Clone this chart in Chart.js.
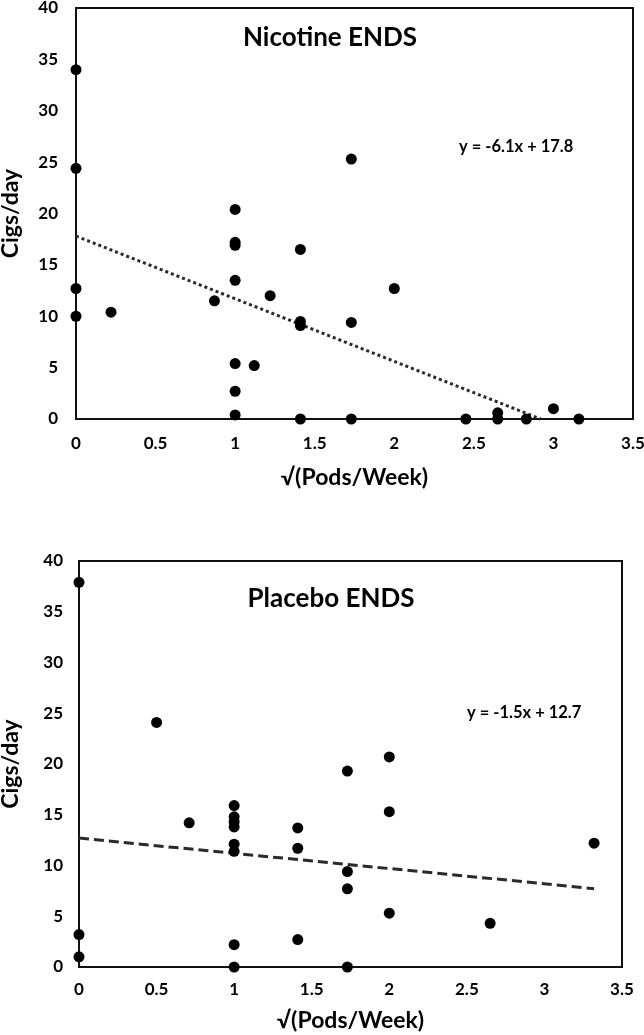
<!DOCTYPE html>
<html><head><meta charset="utf-8">
<script src="https://cdn.jsdelivr.net/npm/chart.js@4.4.1/dist/chart.umd.min.js"></script>
<style>
html,body{margin:0;padding:0;background:#fff;width:644px;height:1035px;overflow:hidden}
canvas{position:absolute;left:0}
#c1{top:0}
#c2{top:510px}
</style></head><body>
<canvas id="c1" width="644" height="500"></canvas>
<canvas id="c2" width="644" height="525"></canvas>
<script>
// ---- data ----
const xTicks = [0, 0.5, 1, 1.5, 2, 2.5, 3, 3.5];
const xTickLabels = ['0', '0.5', '1', '1.5', '2', '2.5', '3', '3.5'];
const yTicks = [0, 5, 10, 15, 20, 25, 30, 35, 40];
const yTickLabels = ['0', '5', '10', '15', '20', '25', '30', '35', '40'];

const nicotineX = [0, 0, 0, 0, 0.22, 0.87, 1, 1, 1, 1, 1, 1, 1, 1.12, 1.22, 1.41, 1.41, 1.41, 1.41, 1.73, 1.73, 1.73, 2, 2.45, 2.65, 2.65, 2.83, 3, 3.16];
const nicotineY = [34, 24.4, 12.7, 10, 10.4, 11.5, 20.4, 17.2, 16.9, 13.5, 5.4, 2.7, 0.4, 5.2, 12, 16.5, 9.5, 9.1, 0, 25.3, 9.4, 0, 12.7, 0, 0.6, 0, 0, 1, 0];
const nicotineTrendX = [0, 2.92];
const nicotineTrendY = [17.8, 0];

const placeboX = [0, 0, 0, 0.5, 0.71, 1, 1, 1, 1, 1, 1, 1, 1, 1.41, 1.41, 1.41, 1.73, 1.73, 1.73, 1.73, 2, 2, 2, 2.65, 3.32];
const placeboY = [37.9, 3.2, 1.0, 24.1, 14.2, 15.9, 14.8, 14.3, 13.8, 12.1, 11.4, 2.2, 0, 13.7, 11.7, 2.7, 19.3, 9.4, 7.7, 0, 20.7, 15.3, 5.3, 4.3, 12.2];
const placeboTrendX = [0, 3.32];
const placeboTrendY = [12.7, 7.72];

const titles = ['Nicotine ENDS', 'Placebo ENDS'];
const equations = ['y = -6.1x + 17.8', 'y = -1.5x + 12.7'];
const xTitle = '\u221A(Pods/Week)';
const yTitle = 'Cigs/day';

// ---- rendering ----
Chart.defaults.font.family = 'Lato';
Chart.defaults.color = '#000';

const framePlugin = {
  id: 'frame',
  beforeDatasetsDraw(chart) {
    const a = chart.chartArea, ctx = chart.ctx;
    ctx.save();
    ctx.strokeStyle = '#111';
    ctx.lineWidth = 2;
    ctx.strokeRect(a.left, a.top, a.right - a.left, a.bottom - a.top);
    ctx.restore();
  }
};
const annotPlugin = {
  id: 'annot',
  afterDraw(chart, args, o) {
    const ctx = chart.ctx;
    ctx.save();
    ctx.fillStyle = '#000';
    ctx.textBaseline = 'middle';
    ctx.font = 'bold 26px Lato';
    ctx.textAlign = 'center';
    ctx.fillText(o.title, o.titleX, o.titleY);
    ctx.font = 'bold 16.5px Lato';
    ctx.textAlign = 'left';
    ctx.fillText(o.eq, o.eqX, o.eqY);
    ctx.restore();
  }
};

function toPts(xs, ys) { return xs.map((x, i) => ({x: x, y: ys[i]})); }

function makeChart(id, xs, ys, tx, ty, dash, lay) {
  return new Chart(document.getElementById(id), {
    type: 'scatter',
    data: {
      datasets: [
        {
          type: 'scatter',
          data: toPts(xs, ys),
          pointRadius: 5.5,
          pointHoverRadius: 5.5,
          pointBackgroundColor: '#000',
          pointBorderColor: '#000',
          pointBorderWidth: 0,
          clip: false,
          order: 1
        },
        {
          type: 'line',
          data: toPts(tx, ty),
          showLine: true,
          borderColor: '#2a2a2a',
          borderWidth: 3,
          borderDash: dash,
          pointRadius: 0,
          fill: false,
          clip: false,
          order: 2
        }
      ]
    },
    options: {
      responsive: false,
      animation: false,
      events: [],
      layout: {padding: {left: 0, top: lay.top, right: lay.right, bottom: 0}},
      plugins: {
        legend: {display: false},
        tooltip: {enabled: false},
        annot: lay.annot
      },
      scales: {
        x: {
          type: 'linear',
          min: 0, max: 3.5,
          afterBuildTicks: s => { s.ticks = xTicks.map(v => ({value: v})); },
          afterFit: s => { s.height = lay.xh; s.paddingLeft = 0; s.paddingRight = 0; },
          grid: {display: false, drawTicks: false},
          border: {display: false},
          ticks: {
            padding: lay.xpad,
            color: '#000',
            font: {size: 17, weight: 'bold', lineHeight: 1.2},
            callback: (v) => xTickLabels[xTicks.indexOf(v)],
            maxRotation: 0, autoSkip: false
          },
          title: {
            display: true, text: xTitle, color: '#000',
            font: {size: 23, weight: 'bold', lineHeight: 1.2},
            padding: {top: 0, bottom: lay.xtpad}
          }
        },
        y: {
          type: 'linear',
          min: 0, max: 40,
          afterBuildTicks: s => { s.ticks = yTicks.map(v => ({value: v})); },
          afterFit: s => { s.width = lay.yw; s.paddingTop = 0; s.paddingBottom = 0; },
          grid: {display: false, drawTicks: false},
          border: {display: false},
          ticks: {
            padding: lay.ypad,
            color: '#000',
            font: {size: 17, weight: 'bold', lineHeight: 0.9},
            callback: (v) => yTickLabels[yTicks.indexOf(v)],
            autoSkip: false
          },
          title: {
            display: true, text: yTitle, color: '#000',
            font: {size: 23, weight: 'bold', lineHeight: 0.9},
            padding: {top: 0, bottom: 0}
          }
        }
      }
    },
    plugins: [framePlugin, annotPlugin]
  });
}

makeChart('c1', nicotineX, nicotineY, nicotineTrendX, nicotineTrendY, [3, 3], {
  top: 8, right: 11, xh: 81, yw: 76, xpad: 14, ypad: 18, xtpad: 9,
  annot: {title: titles[0], titleX: 330, titleY: 38, eq: equations[0], eqX: 459, eqY: 147}
});
makeChart('c2', placeboX, placeboY, placeboTrendX, placeboTrendY, [10, 5], {
  top: 51, right: 22, xh: 68, yw: 79, xpad: 12, ypad: 16, xtpad: 1,
  annot: {title: titles[1], titleX: 331, titleY: 89, eq: equations[1], eqX: 467, eqY: 203}
});
</script>
</body></html>
